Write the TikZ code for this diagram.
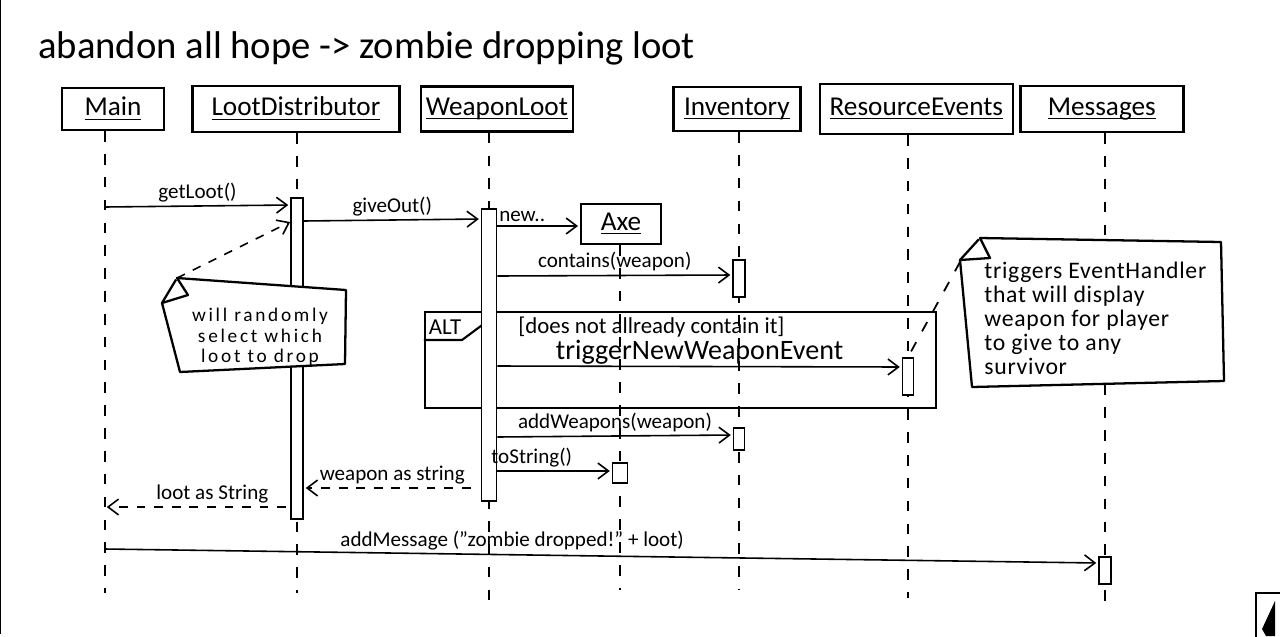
\documentclass[tikz,border=0pt]{standalone}
\usepackage{amsmath}
\usepackage{fontspec}
\setmainfont{Carlito}
\usetikzlibrary{arrows.meta,positioning}

\newcommand{\pxu}{0.02cm}
\newcommand{\objname}[1]{\underline{\smash[b]{#1}}}

\tikzset{
  obj/.style={draw, line width=1.4pt, inner sep=0pt,
              font=\fontsize{15.5}{18}\selectfont},
  lifeline/.style={line width=1.2pt, dash pattern=on 6pt off 7pt},
  act/.style={draw, fill=white, line width=1.1pt, inner sep=0pt},
  msg/.style={line width=0.9pt, -{Straight Barb[length=6pt,width=9pt,line width=0.9pt]}},
  ret/.style={msg, dash pattern=on 5pt off 5pt},
  lbl/.style={font=\fontsize{12}{14}\selectfont, inner sep=2pt},
  notebox/.style={line width=1.3pt, line join=round, fill=white},
  notetext/.style={font=\fontsize{11}{11.5}\selectfont\addfontfeature{LetterSpace=14}, inner sep=0pt}
}

\begin{document}
\begin{tikzpicture}[x=\pxu, y=-\pxu, shorten >=1pt, node distance=20*\pxu]
  \useasboundingbox (0,0) rectangle (1280,636);
  \draw[line width=0.8pt] (0.7,0) -- (0.7,636);

  \node[anchor=base west, font=\fontsize{22}{26}\selectfont, inner sep=0pt] (title) at (38,58)
       {abandon all hope -> zombie dropping loot};

  % objects
  \node[obj, minimum width=102*\pxu, minimum height=42*\pxu] (main) at (113,109) {\objname{Main}};
  \node[obj, minimum width=207*\pxu, minimum height=46*\pxu] (lootdist) [right=26*\pxu of main] {\objname{LootDistributor}};
  \node[obj, minimum width=152*\pxu, minimum height=45*\pxu] (weaponloot) [right=19*\pxu of lootdist] {\objname{WeaponLoot}};
  \node[obj, minimum width=127*\pxu, minimum height=44*\pxu] (inventory) [right=98*\pxu of weaponloot] {\objname{Inventory}};
  \node[obj, minimum width=193*\pxu, minimum height=50*\pxu] (resevents) [right=17*\pxu of inventory] {\objname{ResourceEvents}};
  \node[obj, minimum width=163*\pxu, minimum height=46*\pxu] (messages) [right=5*\pxu of resevents] {\objname{Messages}};
  \node[obj, minimum width=80*\pxu, minimum height=40*\pxu] (axe) at (621,224) {\objname{Axe}};

  % lifelines
  \coordinate (mainTop) at (main.south -| 105,0);
  \coordinate (ldTop)   at (lootdist.south -| 297,0);
  \coordinate (wlTop)   at (weaponloot.south -| 489,0);
  \coordinate (invTop)  at (inventory.south -| 739,0);
  \coordinate (reTop)   at (resevents.south -| 908,0);
  \coordinate (msgTop)  at (messages.south -| 1105,0);
  \coordinate (axeTop)  at (axe.south -| 620,0);
  \draw[lifeline] (mainTop) -- (mainTop |- 0,595);
  \draw[lifeline] (ldTop)   -- (ldTop |- 0,595);
  \draw[lifeline] (wlTop)   -- (wlTop |- 0,605);
  \draw[lifeline] (invTop)  -- (invTop |- 0,592);
  \draw[lifeline] (reTop)   -- (reTop |- 0,600);
  \draw[lifeline] (msgTop)  -- (msgTop |- 0,610);
  \draw[lifeline] (axeTop)  -- (axeTop |- 0,592);

  % alt frame
  \node[draw, line width=1.4pt, minimum width=511*\pxu, minimum height=96*\pxu, inner sep=0pt] (alt) at (680.5,360) {};
  \draw[line width=1.2pt] (alt.north west |- 0,340) -- (462,340) -- (497,314);
  \node[font=\fontsize{13}{15}\selectfont] (altlbl) at (445,327) {ALT};
  \node[anchor=west, font=\fontsize{13}{15}\selectfont, inner sep=0pt] (guard) at (518,327)
       {[does not allready contain it]};

  % activations
  \node[act, minimum width=12*\pxu, minimum height=321*\pxu] (ldAct)   at (ldTop |- 0,358.5) {};
  \node[act, minimum width=15*\pxu, minimum height=292*\pxu] (wlAct)   at (wlTop |- 0,355) {};
  \node[act, minimum width=12*\pxu, minimum height=37*\pxu]  (invAct)  at (invTop |- 0,278.5) {};
  \node[act, minimum width=11*\pxu, minimum height=22*\pxu]  (invAct2) at (invTop |- 0,439) {};
  \node[act, minimum width=11*\pxu, minimum height=37*\pxu]  (reAct)   at (reTop |- 0,376.5) {};
  \node[act, minimum width=15*\pxu, minimum height=20*\pxu]  (axeAct)  at (axeTop |- 0,473) {};
  \node[act, minimum width=12*\pxu, minimum height=27*\pxu]  (msgAct)  at (msgTop |- 0,570.5) {};

  % calls
  \path[msg] (mainTop |- 0,207)      edge node[lbl, above]          {getLoot()}         (ldAct.west |- 0,205)
             (ldAct.east |- 0,221)   edge node[lbl, above]          {giveOut()}         (wlAct.west |- 0,219)
             (wlAct.east |- 0,226)   edge node[lbl, above, pos=0.3] {new..}             (axe.west |- 0,226)
             (wlAct.east |- 0,276)   edge node[lbl, above]          {contains(weapon)}  (invAct.west |- 0,275)
             (wlAct.east |- 0,366)   edge node[lbl, above, inner sep=1pt, font=\fontsize{16}{18}\selectfont]
                                                                      {triggerNewWeaponEvent} (reAct.west |- 0,367)
             (wlAct.east |- 0,437)   edge node[lbl, above]          {addWeapons(weapon)} (invAct2.west |- 0,435)
             (wlAct.east |- 0,471)   edge node[lbl, above, pos=0.3] {toString()}        (axeAct.west |- 0,471)
             (mainTop |- 0,549)      edge node[lbl, above, pos=0.41] {addMessage ("zombie dropped!" + loot)} (msgAct.west |- 0,563);

  % returns
  \path[ret] (wlAct.west |- 0,488)   edge[shorten <=10*\pxu] node[lbl, above] {weapon as string} (ldAct.east |- 0,488)
             (ldAct.west |- 0,507)   edge[shorten <=4*\pxu] node[lbl, above, pos=0.42] {loot as String} (mainTop |- 0,507);

  % note for LootDistributor
  \draw[notebox] (177,278) -- (346,290) -- (345,364) -- (180,372) -- (162,303) -- (188,295) -- cycle;
  \draw[notebox] (162,303) -- (177,278);
  \coordinate (ldNoteTip) at (177,278);
  \node[notetext, align=center] (ldNote) at (260,337) {will randomly\\select which\\loot to drop};
  \draw[ret, shorten >=0pt] (ldNoteTip) -- (ldAct.west |- 0,222);

  % note for ResourceEvents
  \draw[notebox] (980,238) -- (1221,242) -- (1224,381) -- (972,387) -- (960,260) -- (990,258) -- cycle;
  \draw[notebox] (960,260) -- (980,238);
  \coordinate (reNoteTip) at (960,262);
  \node[notetext, align=left, anchor=north west, font=\fontsize{13.5}{13.6}\selectfont\addfontfeature{LetterSpace=3}] (reNote) at (984,262)
       {triggers EventHandler\\that will display\\weapon for player\\to give to any\\survivor};
  \draw[lifeline, line width=1pt] (reNoteTip) -- (reAct.north);

  % corner widget
  \draw[line width=1.2pt] (1256,640) -- (1256,593) -- (1282,593);
  \fill (1275,601) -- (1275,636) -- (1266,636) -- (1262,629) -- cycle;
\end{tikzpicture}
\end{document}
